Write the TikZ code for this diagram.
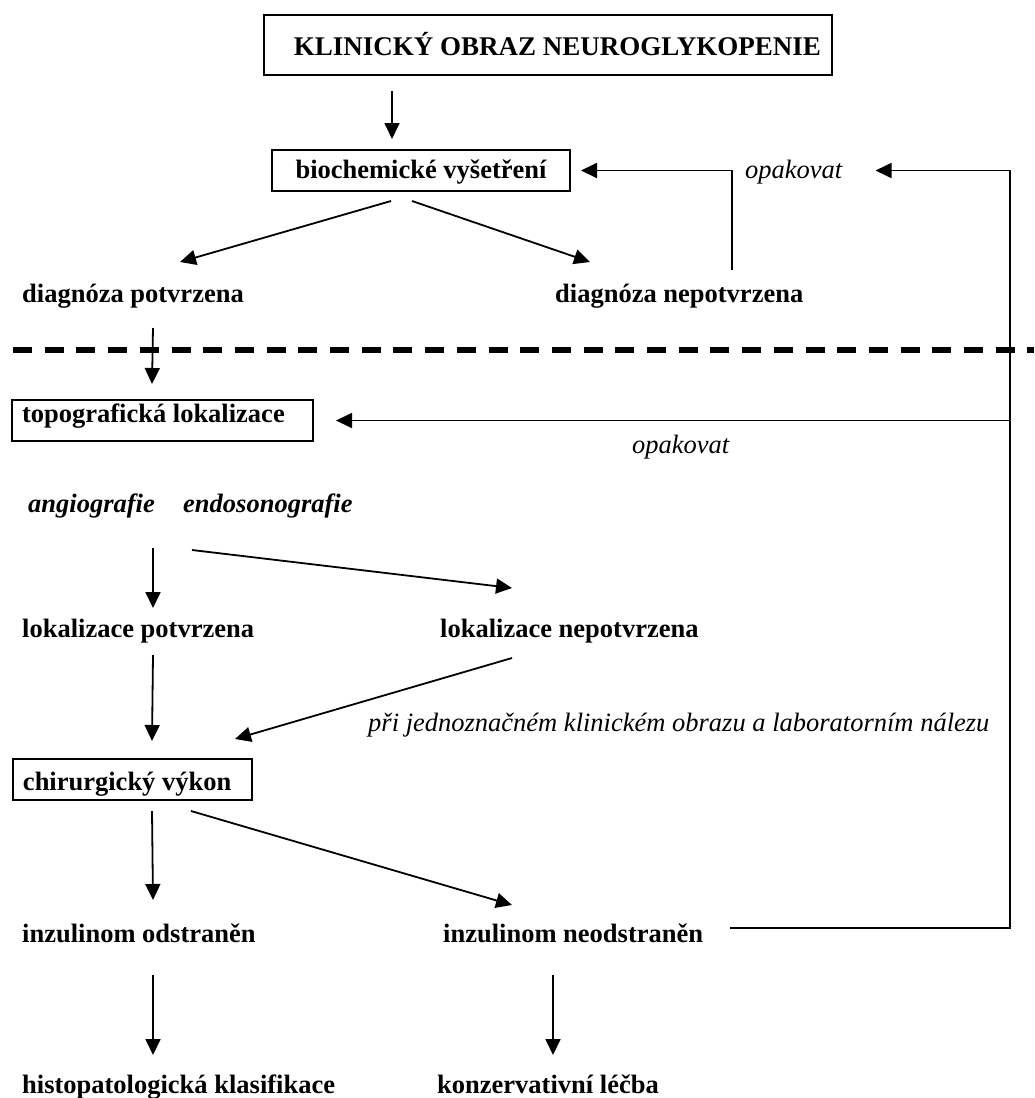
\documentclass[tikz,border=0pt]{standalone}
\usepackage{fontspec}
\setmainfont{Liberation Serif}
\usetikzlibrary{positioning,calc}
\usetikzlibrary{arrows.meta}

\newcommand{\txtsize}{\fontsize{26.5}{31}\selectfont}

\tikzset{
  box/.style={rectangle, draw, line width=2pt, inner xsep=0pt, inner ysep=0pt, font=\txtsize\bfseries},
  lbox/.style={box, inner xsep=10pt, align=flush left},
  lbl/.style={anchor=base west, inner sep=0pt, font=\txtsize\bfseries},
  note/.style={anchor=base west, inner sep=0pt, font=\txtsize\itshape},
  bnote/.style={anchor=base west, inner sep=0pt, font=\txtsize\bfseries\itshape},
  arr/.style={-{Triangle[length=16pt,width=15pt]}, line width=1.8pt},
  sepline/.style={line width=6pt, dash pattern=on 19pt off 12.7pt}
}

\begin{document}
\begin{tikzpicture}[x=1pt, y=-1pt]
				\useasboundingbox (0,0) rectangle (1034,1098);
				% upper part
				\node[box, font=\fontsize{27}{31}\selectfont\bfseries, text width=546pt, inner xsep=11pt, align=flush right, text height=40pt, text depth=20pt] (klin) at (548,45) {KLINICKÝ OBRAZ NEUROGLYKOPENIE};
				\node[box, minimum width=298pt, text height=28pt, text depth=13pt] (bio) at (421,170.5) {biochemické vyšetření};
				\node[lbl] (dpot) at (22,302) {diagnóza potvrzena};
				\node[lbl] (dnep) at (555,302) {diagnóza nepotvrzena};
				\node[note] (opak1) at (745,178) {opakovat};
				\draw[sepline] (13,350) -- (1034,350);
				% lower part
				\node[lbox, text width=281pt, text height=22pt, text depth=19pt] (topo) at (162.5,420.5) {topografická lokalizace};
				\node[note] (opak2) at (632,453) {opakovat};
				\node[bnote] (angio) at (28,512) {angiografie};
				\node[bnote, right=28pt of angio.base east, anchor=base west] (endo) {endosonografie};
				\node[lbl] (lpot) at (22,637) {lokalizace potvrzena};
				\node[lbl] (lnep) at (440,637) {lokalizace nepotvrzena};
				\node[note] (pri) at (368,731) {při jednoznačném klinickém obrazu a laboratorním nálezu};
				\node[lbox, text width=219pt, text height=31pt, text depth=10pt] (chir) at (132.5,779.5) {chirurgický výkon};
				\node[lbl] (iodst) at (22,942) {inzulinom odstraněn};
				\node[lbl] (ineod) at (443,942) {inzulinom neodstraněn};
				\node[lbl] (histo) at (22,1093) {histopatologická klasifikace};
				\node[lbl] (konz) at (437,1093) {konzervativní léčba};
				\coordinate (ret) at (1010,420.5);
				% connectors
				\draw[arr] ($(klin.south west)+(129,15)$) -- ($(bio.north west)+(121,-10)$);
				\draw[arr] ($(bio.south)+(-30,9)$) -- ($(dpot.base west)+(158,-40)$);
				\draw[arr] ($(bio.south)+(-9,9)$) -- ($(dnep.base west)+(35,-40)$);
				\draw[arr] ($(dnep.base west)+(177,-32)$) |- ($(bio.east)+(10,0)$);
				\draw[arr] ($(ineod.base west)+(287,-14)$) -| (ret) |- ($(opak1.east |- bio.east)+(33,0)$);
				\draw[arr] (ret) -- ($(topo.east)+(22,0)$);
				\draw[arr] ($(dpot.base west)+(131,26)$) -- ($(topo.north west)+(141,-15)$);
				\draw[arr] ($(angio.base west)+(125,36)$) -- ($(lpot.base west)+(131,-29)$);
				\draw[arr] ($(angio.base west)+(164,38)$) -- ($(lnep.base west)+(72,-49)$);
				\draw[arr] ($(lpot.base west)+(131,18)$) -- ($(chir.north west)+(140,-17)$);
				\draw[arr] ($(lnep.base west)+(72,21)$) -- ($(chir.north east)+(-18,-19)$);
				\draw[arr] ($(chir.south west)+(140,10)$) -- ($(iodst.base west)+(131,-42)$);
				\draw[arr] ($(chir.south west)+(179,10)$) -- ($(ineod.base west)+(69,-37)$);
				\draw[arr] ($(iodst.base west)+(131,33)$) -- ($(histo.base west)+(131,-38)$);
				\draw[arr] ($(ineod.base west)+(110,33)$) -- ($(konz.base west)+(116,-38)$);
			\end{tikzpicture}
\end{document}
